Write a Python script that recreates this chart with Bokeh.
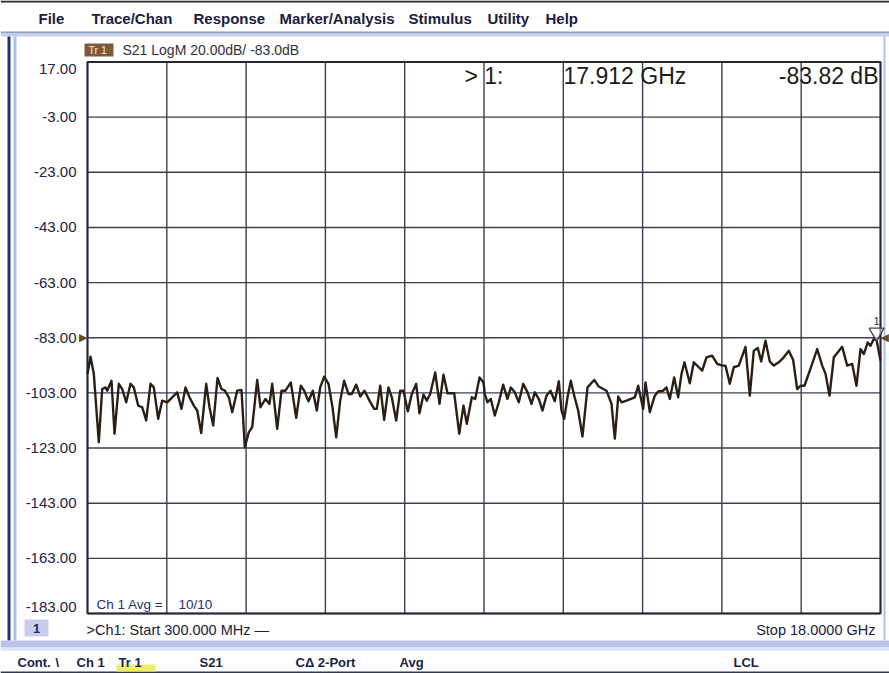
from bokeh.plotting import figure
from bokeh.models import Range1d, Label, BoxAnnotation
from bokeh.embed import file_html
from bokeh.resources import INLINE

# ---------------- data ----------------
freq_ghz = [0.300, 0.367, 0.441, 0.552, 0.628, 0.702, 0.740, 0.836, 0.903, 0.999,
            1.075, 1.164, 1.260, 1.333, 1.432, 1.521, 1.610, 1.706, 1.780, 1.878,
            1.967, 2.079, 2.191, 2.302, 2.398, 2.487, 2.577, 2.673, 2.749, 2.838,
            2.949, 3.023, 3.106, 3.202, 3.291, 3.365, 3.454, 3.530, 3.641, 3.737,
            3.811, 3.900, 3.976, 4.088, 4.161, 4.273, 4.362, 4.423, 4.534, 4.630,
            4.719,
            4.838, 4.958, 5.061, 5.137, 5.233, 5.329, 5.418, 5.494, 5.583, 5.679,
            5.768, 5.851, 5.940, 6.029, 6.126, 6.199, 6.298, 6.387, 6.483, 6.594,
            6.699, 6.757, 6.833, 6.922, 7.018, 7.092, 7.190, 7.280, 7.353, 7.449,
            7.538, 7.637, 7.710, 7.800, 7.873, 7.949, 8.061, 8.157, 8.246, 8.335,
            8.485, 8.597, 8.692, 8.766, 8.878, 8.954, 9.050, 9.139,
            9.168, 9.228, 9.302, 9.391, 9.480, 9.578, 9.674, 9.748, 9.837, 9.927,
            10.025, 10.121, 10.210, 10.284, 10.373, 10.456, 10.545, 10.634, 10.730, 10.820,
            10.880, 10.940, 11.014, 11.088, 11.163, 11.252, 11.348, 11.460, 11.610, 11.712,
            11.884, 11.996, 12.070, 12.146, 12.219, 12.331, 12.516, 12.592, 12.703, 12.755,
            12.851, 12.962, 13.038, 13.150, 13.223, 13.297, 13.395, 13.484, 13.558,
            13.625, 13.743, 13.833, 13.944, 14.020, 14.116, 14.243, 14.355, 14.467, 14.540,
            14.636, 14.725, 14.837, 14.987, 15.083, 15.172, 15.261, 15.337, 15.433, 15.529,
            15.618, 15.730, 15.841, 15.953, 16.051, 16.140, 16.214, 16.303, 16.422, 16.587,
            16.699, 16.773, 16.862, 16.958, 17.145, 17.257, 17.368, 17.464, 17.554, 17.627,
            17.716, 17.776, 17.850, 17.912, 18.000]

s21_db = [-96.1, -89.9, -96.1, -120.9, -101.6, -101.0, -102.2, -98.6, -117.8, -99.7,
          -101.6, -106.4, -99.7, -101.0, -107.6, -108.2, -113.0, -99.7, -101.0, -112.4,
          -105.8, -106.4, -104.6, -102.8, -108.8, -101.0, -104.6, -107.6, -109.4, -117.6,
          -99.7, -108.2, -114.8, -97.6, -101.6, -102.2, -104.6, -110.0, -102.2, -101.9,
          -122.7, -117.3, -115.4, -98.3, -108.2, -105.2, -107.0, -99.7, -116.0, -102.2,
          -102.2,
          -99.2, -112.0, -100.4, -102.2, -106.0, -102.2, -109.4, -101.0, -97.1, -99.7,
          -108.2, -119.1, -105.8, -98.6, -103.4, -103.4, -100.0, -104.3, -102.2, -105.8,
          -108.8, -108.8, -100.4, -112.8, -101.0, -104.6, -113.0, -102.2, -102.2, -109.7,
          -103.4, -99.7, -110.4, -103.6, -105.8, -103.4, -95.6, -107.0, -96.4, -103.1,
          -103.1, -117.8, -107.6, -114.2, -104.6, -105.2, -97.4, -99.2,
          -103.4, -106.4, -105.2, -111.2, -106.4, -100.0, -105.2, -101.0, -102.8, -106.4,
          -99.7, -102.8, -107.0, -102.8, -105.2, -109.4, -104.0, -102.2, -106.0, -98.8,
          -109.4, -112.4, -104.6, -98.6, -104.0, -109.4, -118.8, -101.0, -98.3, -100.7,
          -102.2, -107.0, -119.6, -104.3, -106.4, -105.8, -104.6, -100.4, -108.8, -99.2,
          -110.0, -104.0, -102.5, -102.2, -101.0, -105.2, -97.4, -104.6, -96.1,
          -91.9, -99.5, -91.9, -93.7, -94.9, -90.1, -89.5, -92.5, -93.1, -93.1,
          -99.7, -93.7, -93.1, -86.3, -104.0, -87.7, -86.7, -91.6, -84.1, -91.6,
          -93.1, -91.9, -90.1, -87.7, -91.1, -101.6, -100.4, -100.4, -94.9, -87.1,
          -93.1, -96.1, -104.0, -90.1, -86.3, -93.1, -92.5, -100.4, -87.1, -88.9,
          -84.7, -85.9, -83.5, -83.82, -91.3]

y_ticks = [17, -3, -23, -43, -63, -83, -103, -123, -143, -163, -183]
x_ticks = [0.3, 2.07, 3.84, 5.61, 7.38, 9.15, 10.92, 12.69, 14.46, 16.23, 18.0]
start_ghz, stop_ghz = 0.3, 18.0
top_db, bottom_db = 17.0, -183.0
ref_level_db = -83.0
marker_f = 17.912
marker_db = -83.82

menu_items = ["File", "Trace/Chan", "Response", "Marker/Analysis", "Stimulus", "Utility", "Help"]
status_items = ["Cont.", "\\", "Ch 1", "Tr 1", "S21", "C\u0394 2-Port", "Avg", "LCL"]
trace_title = "S21 LogM 20.00dB/ -83.0dB"

# ---------------- layout (canvas pixel positions) ----------------
W, H = 889, 673
GL, GR, GT, GB = 87, 880, 61.5, 613   # graticule box on the canvas
menu_x = [38, 91, 193, 279, 408, 487, 545]
status_x = [17, 55, 76, 118, 199, 295, 399, 733]
MARKER_PX = 15                         # marker triangle size in pixels

FONT = "Liberation Sans"
NAVY = "#1c2342"
GRID = "#3a4052"

# ranges chosen so that the graticule (start..stop, bottom..top) lands on the box above
ghz_per_px = (stop_ghz - start_ghz) / (GR - GL)
db_per_px = (top_db - bottom_db) / (GB - GT)
x_rng = Range1d(start_ghz - GL * ghz_per_px, stop_ghz + (W - GR) * ghz_per_px)
y_rng = Range1d(bottom_db - (H - GB) * db_per_px, top_db + GT * db_per_px)

p = figure(width=W, height=H, output_backend="svg", toolbar_location=None,
           x_range=x_rng, y_range=y_rng, x_axis_type=None, y_axis_type=None,
           min_border_left=0, min_border_right=0, min_border_top=0, min_border_bottom=0)
p.background_fill_color = "white"
p.border_fill_color = "white"
p.outline_line_color = None
p.grid.visible = False


def cbox(x0, y0, x1, y1, color):
    p.add_layout(BoxAnnotation(left=x0, right=x1, top=y0, bottom=y1,
                               left_units="canvas", right_units="canvas",
                               top_units="canvas", bottom_units="canvas",
                               fill_color=color, fill_alpha=1.0, line_color=None, level="underlay"))


def ctext(x, y, text, size, color=NAVY, align="left", baseline="middle", bold=False, font=FONT):
    p.add_layout(Label(x=x, y=y, x_units="canvas", y_units="canvas", text=text,
                       text_font=font, text_font_size=f"{size}px", text_color=color,
                       text_align=align, text_baseline=baseline,
                       text_font_style="bold" if bold else "normal"))


# graticule
p.segment(x0=x_ticks, y0=[bottom_db] * len(x_ticks), x1=x_ticks, y1=[top_db] * len(x_ticks),
          line_color=GRID, line_width=1.4)
p.segment(x0=[start_ghz] * len(y_ticks), y0=y_ticks, x1=[stop_ghz] * len(y_ticks), y1=y_ticks,
          line_color=GRID, line_width=1.4)
p.quad(left=[start_ghz], right=[stop_ghz], top=[top_db], bottom=[bottom_db],
       fill_color=None, line_color="#23283a", line_width=2)

# trace
p.line(freq_ghz, s21_db, line_color="#2b1f14", line_width=2.4, line_join="round")

# window chrome
cbox(0, 0, 889, 2, "#2a2a2a")
cbox(0, 31, 889, 33, "#8e9bc2")
cbox(0, 33, 889, 36, "#c6d0ea")
cbox(7, 36, 10, 640, "#27336a")
cbox(13, 36, 16, 640, "#a9c3ea")
cbox(883, 36, 885, 640, "#a9c3ea")
cbox(0, 640, 889, 647, "#bcc2ea")
cbox(0, 647, 889, 650, "#d8e6f7")
cbox(0, 671, 889, 673, "#30384e")

for name, x in zip(menu_items, menu_x):
    ctext(x, 18, name, 15, color="#1a2040", bold=True)

# trace header
cbox(84, 43, 113, 56, "#7e5a3a")
ctext(88, 49.5, "Tr 1", 10.5, color="#f1e8dc")
ctext(122, 49.5, trace_title, 14, color="#30323a")

# y tick labels
for v in y_ticks:
    base = "top" if v == y_ticks[0] else ("bottom" if v == y_ticks[-1] else "middle")
    p.add_layout(Label(x=76, y=v, x_units="canvas", y_units="data",
                       text=f"{v:.2f}", text_font=FONT, text_font_size="15px",
                       text_color=NAVY, text_align="right", text_baseline=base,
                       y_offset=-2 if base == "top" else (2 if base == "bottom" else 0)))

# reference level arrows
p.add_layout(Label(x=start_ghz, y=ref_level_db,
                   text="\u25B6", text_font="DejaVu Sans", text_font_size="11px",
                   text_color="#6a4a2c", text_align="right", text_baseline="middle"))
p.add_layout(Label(x=stop_ghz, y=ref_level_db,
                   text="\u25C0", text_font="DejaVu Sans", text_font_size="11px",
                   text_color="#6a4a2c", text_align="left", text_baseline="middle"))

# marker readout
ctext(464, 75, "> 1:", 23, color="#1b1b1b")
ctext(563, 75, f"{marker_f:.3f} GHz", 23, color="#1b1b1b")
ctext(878, 75, f"{marker_db:.2f} dB", 23, color="#1b1b1b", align="right")

# marker symbol: triangle with its tip on the trace point
p.scatter(x=[marker_f], y=[marker_db + 0.5 * MARKER_PX * db_per_px], marker="inverted_triangle",
          size=MARKER_PX, fill_color="white", fill_alpha=0.5, line_color="#444444", line_width=1.3)
p.add_layout(Label(x=marker_f, y=marker_db, text="1", text_font=FONT,
                   text_font_size="11px", text_color="#333333", text_align="center",
                   text_baseline="alphabetic", y_offset=19))

# averaging annotation
ctext(96, 604, "Ch 1 Avg =", 13.5, color="#1f2f78")
ctext(178, 604, "10/10", 13.5, color="#1f2f78")

# stimulus line
cbox(24, 619, 48, 636, "#c9cdec")
ctext(36, 628, "1", 13, color="#1c2a5a", align="center", bold=True)
ctext(86, 629, f">Ch1:  Start  {start_ghz*1000:.3f} MHz \u2014", 14.5, color="#1a2040")
ctext(879, 629, f"Stop  {stop_ghz:.4f} GHz", 14.5, color="#1a2040", align="right")

# status bar
cbox(116, 664, 155, 671, "#eeee6a")
for name, x in zip(status_items, status_x):
    ctext(x, 662, name, 13, color="#1a2346", bold=True)

open("out.html", "w").write(file_html(p, INLINE))
